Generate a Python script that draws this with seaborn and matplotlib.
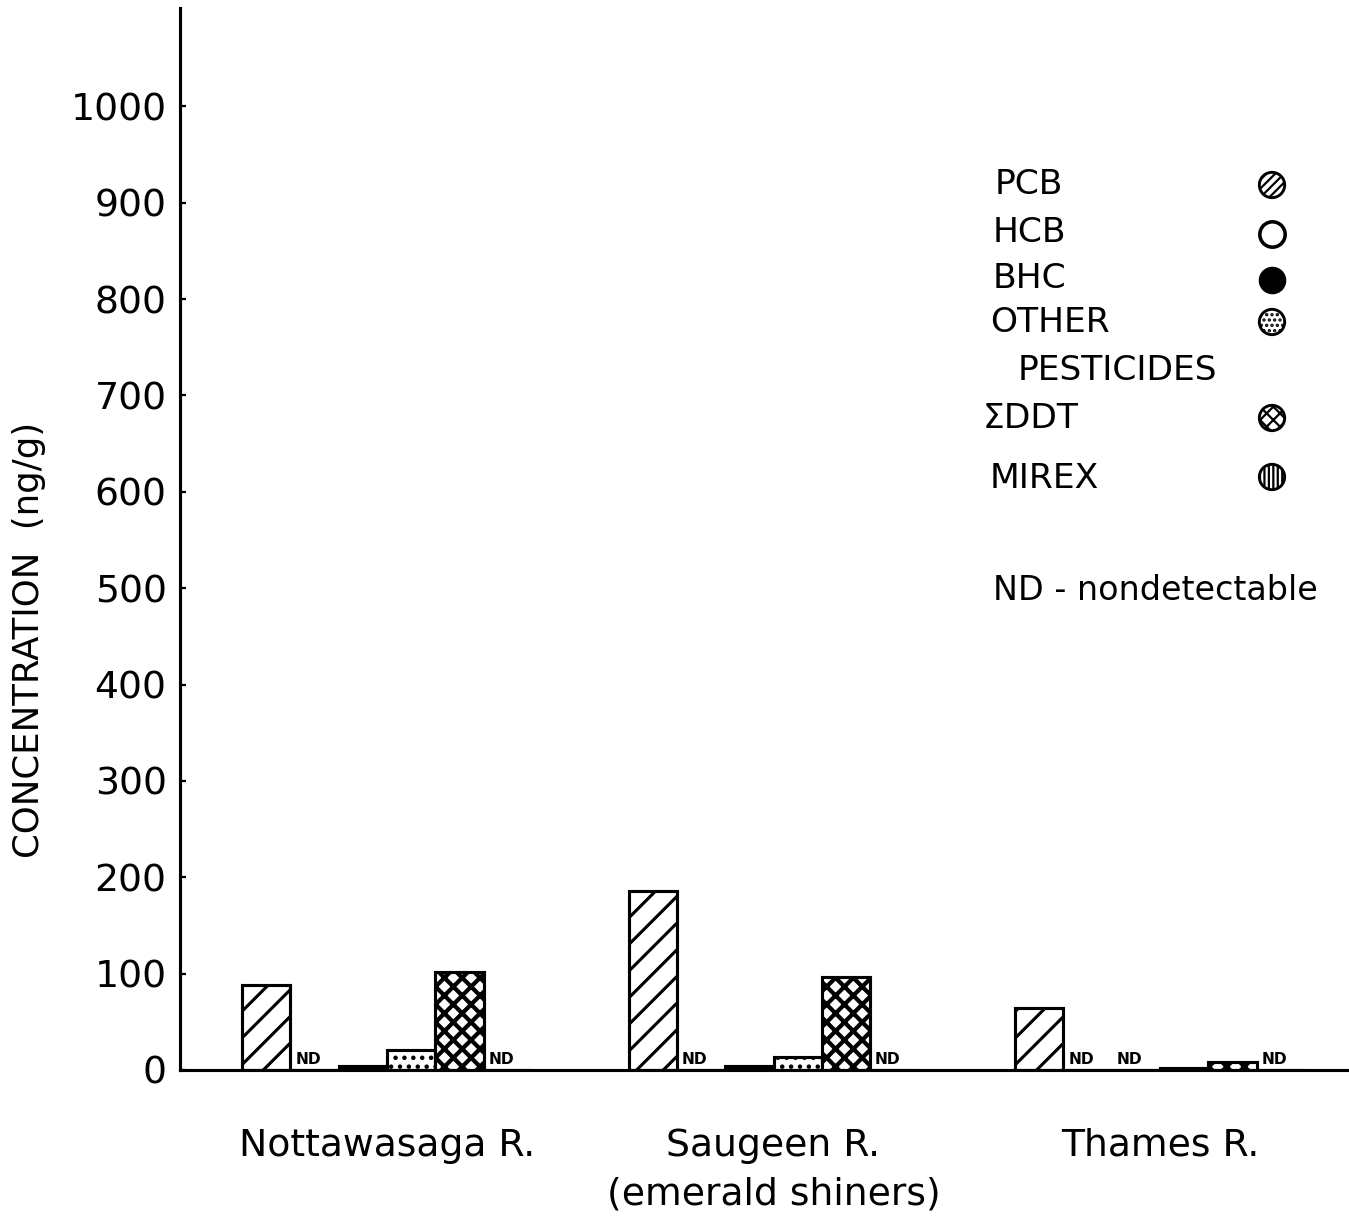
import numpy as np
import pandas as pd
import matplotlib
matplotlib.use("Agg")
import matplotlib.pyplot as plt
import seaborn as sns

# ---------------- data ----------------
rivers = ["Nottawasaga R.", "Saugeen R.\n(emerald shiners)", "Thames R."]
compounds = ["PCB", "HCB", "BHC", "OTHER PESTICIDES", "ΣDDT", "MIREX"]
nottawasaga = [88, 0, 4, 21, 102, 0]
saugeen = [186, 0, 4, 14, 97, 0]
thames = [64, 0, 0, 2, 8, 0]
nd_nottawasaga = ["HCB", "MIREX"]
nd_saugeen = ["HCB", "MIREX"]
nd_thames = ["HCB", "BHC", "MIREX"]
yticks = [0, 100, 200, 300, 400, 500, 600, 700, 800, 900, 1000]
legend_lines = ["PCB", "HCB", "BHC", "OTHER", "PESTICIDES", "ΣDDT", "MIREX"]

# ---------------- style ----------------
DPI = 160
W, H = 1349, 1217
sns.set_style("ticks")
plt.rcParams["font.family"] = ["DejaVu Sans"]
plt.rcParams["hatch.linewidth"] = 1.4
plt.rcParams["text.color"] = "black"
plt.rcParams["xtick.color"] = "black"
plt.rcParams["ytick.color"] = "black"
plt.rcParams["axes.labelcolor"] = "black"
plt.rcParams["axes.edgecolor"] = "black"

rows = []
for r, vals in zip(rivers, [nottawasaga, saugeen, thames]):
    for c, v in zip(compounds, vals):
        rows.append({"river": r, "compound": c, "value": v})
df = pd.DataFrame(rows)
nd_map = dict(zip(rivers, [nd_nottawasaga, nd_saugeen, nd_thames]))

fills = {"PCB": "white", "HCB": "white", "BHC": "black",
         "OTHER PESTICIDES": "white", "ΣDDT": "white", "MIREX": "white"}
hatches = {"PCB": "//", "HCB": "", "BHC": "", "OTHER PESTICIDES": "...",
           "ΣDDT": "xxx", "MIREX": "|||"}
hatch_lw = {"PCB": 1.4, "HCB": 1.0, "BHC": 1.0, "OTHER PESTICIDES": 1.2,
            "ΣDDT": 1.9, "MIREX": 1.0}

fig = plt.figure(figsize=(W / DPI, H / DPI), dpi=DPI)
ax = fig.add_axes([180 / W, (H - 1070) / H, 1169 / W, 1062 / H])

sns.barplot(data=df, x="river", y="value", hue="compound", order=rivers,
            hue_order=compounds, palette=fills, width=0.75, gap=0,
            edgecolor="black", linewidth=1.4, saturation=1, errorbar=None,
            legend=False, ax=ax)

for cont, comp in zip(ax.containers, compounds):
    for bar, river in zip(cont, rivers):
        bar.set_hatch(hatches[comp])
        if hasattr(bar, "set_hatch_linewidth"):
            bar.set_hatch_linewidth(hatch_lw[comp])
        if comp in nd_map[river]:
            x0 = bar.get_x()
            w = bar.get_width()
            ax.text(x0 + 0.1 * w, 3, "ND", fontsize=7, fontweight="bold",
                    ha="left", va="bottom")

ax.set_xlim(-0.5356, 2.489)
ax.set_ylim(0, 1102)
ax.set_yticks(yticks)
ax.set_yticklabels([str(t) for t in yticks], fontsize=17)
ax.tick_params(axis="y", direction="in", length=2.5, width=1.0, pad=6)
ax.tick_params(axis="x", length=0, pad=26, labelsize=17)
for lbl in ax.get_xticklabels():
    lbl.set_linespacing(1.45)
ax.set_xlabel("")
ax.set_ylabel("CONCENTRATION  (ng/g)", fontsize=16)
ax.yaxis.set_label_coords(-0.115, 0.405)
sns.despine(ax=ax)
for s in ["left", "bottom"]:
    ax.spines[s].set_linewidth(1.4)

# ---------------- legend ----------------
def axc(px, py):
    return (px - 180) / 1169, (1070 - py) / 1062

text_pos = [(995, 185), (993, 232), (993, 279), (990, 323), (1018, 370),
            (983, 418), (990, 478)]
for lab, (px, py) in zip(legend_lines, text_pos):
    x, y = axc(px, py)
    ax.text(x, y, lab, transform=ax.transAxes, fontsize=15.5,
            ha="left", va="center")

marker_y = [185, 234, 280, 322, 418, 477]
leg_hatch = ["//////", "", "", ".....", "xxxx", "||||||"]
leg_face = ["white", "white", "black", "white", "white", "white"]
leg_lw = [1.3, 1.6, 1.0, 1.3, 1.3, 1.3]
for comp, py, hh, fc, lw in zip(compounds, marker_y, leg_hatch, leg_face, leg_lw):
    x, y = axc(1272, py)
    sc = ax.scatter([x], [y], s=130, transform=ax.transAxes, facecolor=fc,
                    edgecolor="black", linewidth=lw, hatch=hh if hh else None,
                    clip_on=False, zorder=5)
    if hasattr(sc, "set_hatch_linewidth"):
        sc.set_hatch_linewidth(1.0)

x, y = axc(993, 590)
ax.text(x, y, "ND - nondetectable", transform=ax.transAxes, fontsize=15,
        ha="left", va="center")

fig.savefig("out.png", dpi=DPI)
